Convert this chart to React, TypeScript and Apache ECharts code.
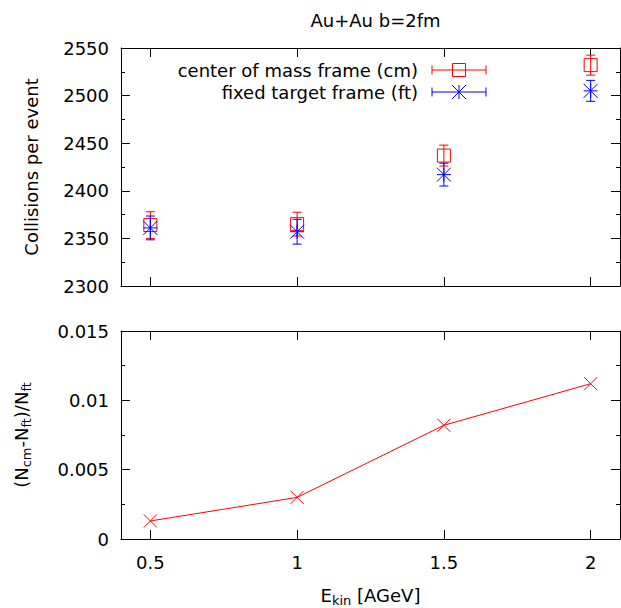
import React, { useEffect, useRef } from "react";
import * as echarts from "echarts";

const energies = [0.5, 1.0, 1.5, 2.0];
const cmValues = [2364, 2365, 2437, 2532];
const cmErrors = [14, 12.5, 11, 10.5];
const ftValues = [2361, 2357, 2417, 2505];
const ftErrors = [12.5, 13, 12, 11];
const ratioValues = [0.0013, 0.003, 0.0082, 0.0112];
const xTicks = [0.5, 1, 1.5, 2];

const FONT = "DejaVu Sans";
const FS = 18;
const RED = "#ff0000";
const BLUE = "#0000ff";

function makeErrRender(kind: "square" | "star", color: string) {
  return (params: any, api: any) => {
    const x = api.value(0);
    const y = api.value(1);
    const e = api.value(2);
    const c = api.coord([x, y]);
    const t = api.coord([x, y + e]);
    const b = api.coord([x, y - e]);
    const cap = 4.5;
    const ls = { stroke: color, lineWidth: 1 };
    const children: any[] = [
      { type: "line", shape: { x1: c[0], y1: t[1], x2: c[0], y2: b[1] }, style: ls },
      { type: "line", shape: { x1: c[0] - cap, y1: t[1], x2: c[0] + cap, y2: t[1] }, style: ls },
      { type: "line", shape: { x1: c[0] - cap, y1: b[1], x2: c[0] + cap, y2: b[1] }, style: ls },
    ];
    if (kind === "square") {
      const s = 6.5;
      children.push({ type: "rect", shape: { x: c[0] - s, y: c[1] - s, width: 2 * s, height: 2 * s }, style: { stroke: color, fill: "none", lineWidth: 1 } });
    } else {
      const s = 7;
      children.push({ type: "line", shape: { x1: c[0] - s, y1: c[1] - s, x2: c[0] + s, y2: c[1] + s }, style: ls });
      children.push({ type: "line", shape: { x1: c[0] - s, y1: c[1] + s, x2: c[0] + s, y2: c[1] - s }, style: ls });
      children.push({ type: "line", shape: { x1: c[0] - s, y1: c[1], x2: c[0] + s, y2: c[1] }, style: ls });
      children.push({ type: "line", shape: { x1: c[0], y1: c[1] - s, x2: c[0], y2: c[1] + s }, style: ls });
    }
    return { type: "group", children };
  };
}

function legendItem(y: number, label: string, kind: "square" | "star", color: string): any[] {
  const x1 = 432, x2 = 486, xc = 459, cap = 4.5;
  const ls = { stroke: color, lineWidth: 1 };
  const items: any[] = [
    { type: "text", x: 418, y, style: { text: label, font: `${FS}px "${FONT}"`, fill: "#000", align: "right", verticalAlign: "middle" } },
    { type: "line", shape: { x1, y1: y, x2, y2: y }, style: ls },
    { type: "line", shape: { x1, y1: y - cap, x2: x1, y2: y + cap }, style: ls },
    { type: "line", shape: { x1: x2, y1: y - cap, x2: x2, y2: y + cap }, style: ls },
  ];
  if (kind === "square") {
    const s = 6.5;
    items.push({ type: "rect", shape: { x: xc - s, y: y - s, width: 2 * s, height: 2 * s }, style: { stroke: color, fill: "none", lineWidth: 1 } });
  } else {
    const s = 7;
    items.push({ type: "line", shape: { x1: xc - s, y1: y - s, x2: xc + s, y2: y + s }, style: ls });
    items.push({ type: "line", shape: { x1: xc - s, y1: y + s, x2: xc + s, y2: y - s }, style: ls });
    items.push({ type: "line", shape: { x1: xc, y1: y - s, x2: xc, y2: y + s }, style: ls });
  }
  return items;
}

export default function App() {
  const ref = useRef<HTMLDivElement>(null);
  useEffect(() => {
    if (!ref.current) return;
    const chart = echarts.init(ref.current, null, { renderer: "svg" });
    const axisLine = { show: true, onZero: false, lineStyle: { color: "#000", width: 1 } };
    const xBase = (gridIndex: number, position: string, showLabel: boolean) => ({
      type: "value",
      gridIndex,
      position,
      min: 0.4,
      max: 2.1,
      axisLine,
      axisTick: { show: true, inside: true, length: 9, customValues: xTicks, lineStyle: { color: "#000" } },
      axisLabel: { show: showLabel, customValues: xTicks, fontSize: FS, fontFamily: FONT, color: "#000", margin: 14, formatter: (v: number) => String(v) },
      splitLine: { show: false },
    });
    const yBase = (gridIndex: number, position: string, min: number, max: number, interval: number, showLabel: boolean) => ({
      type: "value",
      gridIndex,
      position,
      min,
      max,
      interval,
      axisLine,
      axisTick: { show: true, inside: true, length: 9, lineStyle: { color: "#000" } },
      minorTick: { show: true, splitNumber: 2, length: 4, lineStyle: { color: "#000" } },
      axisLabel: { show: showLabel, fontSize: FS, fontFamily: FONT, color: "#000", margin: 12, formatter: (v: number) => String(+v.toFixed(6)) },
      splitLine: { show: false },
    });
    const richName = {
      fontSize: FS, fontFamily: FONT, color: "#000", lineHeight: 24,
      rich: { s: { fontSize: 13, fontFamily: FONT, color: "#000", lineHeight: 13, verticalAlign: "bottom" } },
    };
    const option: any = {
      animation: false,
      title: {
        text: "Au+Au b=2fm",
        left: 370.5,
        top: 6,
        textAlign: "center",
        textStyle: { fontSize: FS, fontWeight: "normal", fontFamily: FONT, color: "#000" },
      },
      grid: [
        { left: 121, top: 48, width: 499, height: 238 },
        { left: 121, top: 331, width: 499, height: 210 },
      ],
      xAxis: [
        xBase(0, "bottom", false),
        xBase(0, "top", false),
        {
          ...xBase(1, "bottom", true),
          name: "E{s|kin} [AGeV]",
          nameLocation: "middle",
          nameGap: 44,
          nameTextStyle: richName,
        },
        xBase(1, "top", false),
      ],
      yAxis: [
        {
          ...yBase(0, "left", 2300, 2550, 50, true),
          name: "Collisions per event",
          nameLocation: "middle",
          nameGap: 81,
          nameTextStyle: { fontSize: FS, fontFamily: FONT, color: "#000" },
        },
        yBase(0, "right", 2300, 2550, 50, false),
        {
          ...yBase(1, "left", 0, 0.015, 0.005, true),
          name: "(N{s|cm}-N{s|ft})/N{s|ft}",
          nameLocation: "middle",
          nameGap: 88,
          nameTextStyle: richName,
        },
        yBase(1, "right", 0, 0.015, 0.005, false),
      ],
      graphic: [...legendItem(70, "center of mass frame (cm)", "square", RED), ...legendItem(92, "fixed target frame (ft)", "star", BLUE)],
      series: [
        {
          type: "custom",
          name: "cm",
          xAxisIndex: 0,
          yAxisIndex: 0,
          renderItem: makeErrRender("square", RED),
          data: energies.map((e, i) => [e, cmValues[i], cmErrors[i]]),
          encode: { x: 0, y: 1 },
        },
        {
          type: "custom",
          name: "ft",
          xAxisIndex: 0,
          yAxisIndex: 0,
          renderItem: makeErrRender("star", BLUE),
          data: energies.map((e, i) => [e, ftValues[i], ftErrors[i]]),
          encode: { x: 0, y: 1 },
        },
        {
          type: "line",
          xAxisIndex: 2,
          yAxisIndex: 2,
          data: energies.map((e, i) => [e, ratioValues[i]]),
          symbol: "path://M0,0L10,10M10,0L0,10",
          symbolSize: 13,
          showSymbol: true,
          lineStyle: { color: RED, width: 1 },
          itemStyle: { color: RED, borderColor: RED, borderWidth: 1 },
        },
      ],
    };
    chart.setOption(option);
    return () => chart.dispose();
  }, []);
  return <div ref={ref} style={{ position: "fixed", left: 0, top: 0, width: 621, height: 608, background: "#fff" }} />;
}
